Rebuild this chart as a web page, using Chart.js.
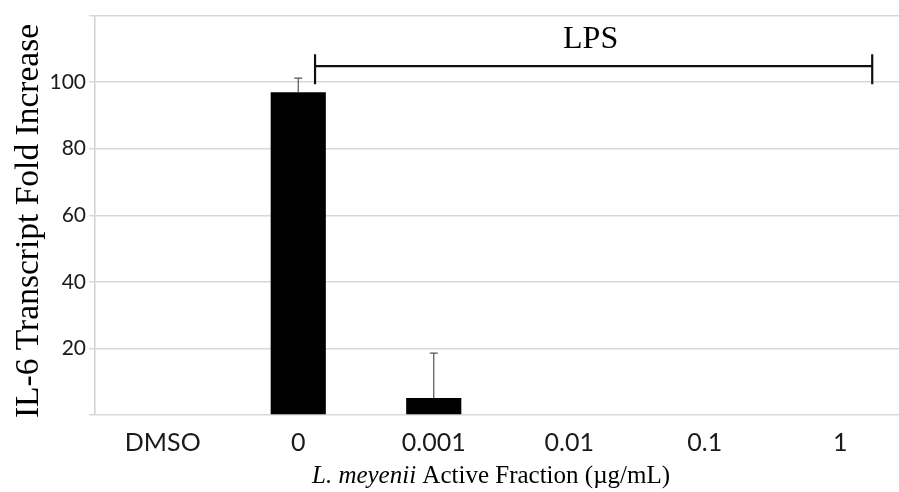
<!DOCTYPE html>
<html><head><meta charset="utf-8">
<script src="https://cdn.jsdelivr.net/npm/chart.js@4"></script>
<style>html,body{margin:0;padding:0;background:#fff;overflow:hidden}#wrap{width:908px;height:492px;position:relative}</style>
</head><body><div id="wrap"><canvas id="c"></canvas></div>
<script>
const categories = ["DMSO", "0", "0.001", "0.01", "0.1", "1"];
const foldIncrease = [0, 97, 5.1, 0, 0, 0];
const errorUpper = [null, 101.2, 18.6, null, null, null];
const yTicks = [0, 20, 40, 60, 80, 100, 120];
const bracketLabel = "LPS";
const bracketFrom = 1.124, bracketTo = 5.236, bracketValue = 104.8;
const yTitle = "IL-6 Transcript Fold Increase";
const xTitleItalic = "L. meyenii";
const xTitleRest = " Active Fraction (µg/mL)";

const overlay = {
  id: 'overlay',
  afterDatasetsDraw(chart) {
    const {ctx, scales: {x, y}} = chart;
    ctx.save();
    // error bars
    ctx.strokeStyle = '#555'; ctx.lineWidth = 1.2;
    errorUpper.forEach((e, i) => {
      if (e == null) return;
      const px = x.getPixelForValue(i);
      const top = y.getPixelForValue(e), base = y.getPixelForValue(foldIncrease[i]);
      ctx.beginPath(); ctx.moveTo(px, base); ctx.lineTo(px, top);
      ctx.moveTo(px - 4, top); ctx.lineTo(px + 4, top); ctx.stroke();
    });
    // LPS bracket
    const x1 = x.getPixelForValue(bracketFrom), x2 = x.getPixelForValue(bracketTo);
    const by = y.getPixelForValue(bracketValue);
    ctx.strokeStyle = '#111'; ctx.lineWidth = 2.2;
    ctx.beginPath(); ctx.moveTo(x1, by); ctx.lineTo(x2, by);
    ctx.moveTo(x1, by - 12); ctx.lineTo(x1, by + 18);
    ctx.moveTo(x2, by - 12); ctx.lineTo(x2, by + 18); ctx.stroke();
    ctx.fillStyle = '#000'; ctx.font = '32px "Liberation Serif"';
    ctx.textAlign = 'center'; ctx.textBaseline = 'middle';
    ctx.fillText(bracketLabel, (x1 + x2) / 2 - 3, by - 27);
    // y title
    ctx.save();
    ctx.translate(29, 221);
    ctx.rotate(-Math.PI / 2);
    ctx.font = '33.5px "Liberation Serif"';
    ctx.fillText(yTitle, 0, 0);
    ctx.restore();
    // x title (mixed italic)
    const fs = 25;
    ctx.font = `italic ${fs}px "Liberation Serif"`;
    const w1 = ctx.measureText(xTitleItalic).width;
    ctx.font = `${fs}px "Liberation Serif"`;
    const w2 = ctx.measureText(xTitleRest).width;
    const cx = 491, cy = 476;
    let sx = cx - (w1 + w2) / 2;
    ctx.textAlign = 'left';
    ctx.font = `italic ${fs}px "Liberation Serif"`;
    ctx.fillText(xTitleItalic, sx, cy);
    ctx.font = `${fs}px "Liberation Serif"`;
    ctx.fillText(xTitleRest, sx + w1, cy);
    ctx.restore();
  }
};

new Chart(document.getElementById('c'), {
  type: 'bar',
  data: {
    labels: categories,
    datasets: [{ data: foldIncrease, backgroundColor: '#000', borderWidth: 0,
      barPercentage: 0.407, categoryPercentage: 1.0 }]
  },
  options: {
    responsive: true, maintainAspectRatio: false, animation: false,
    layout: { padding: { top: 13, right: 0, left: 0, bottom: 0 } },
    plugins: { legend: { display: false }, tooltip: { enabled: false } },
    scales: {
      x: {
        grid: { display: false, drawTicks: false },
        border: { display: false },
        ticks: { color: '#1a1a1a', font: { family: 'Lato', size: 25 }, padding: 13, maxRotation: 0 },
        afterFit(s) { s.height = 77; }
      },
      y: {
        min: 0, max: 120,
        afterBuildTicks(s) { s.ticks = yTicks.map(v => ({ value: v })); },
        ticks: { color: '#1a1a1a', font: { family: 'Lato', size: 21 }, padding: 3,
          callback: v => (v === 0 || v === 120) ? '' : v },
        grid: { color: '#d8d8d8', lineWidth: 1.5, tickLength: 6 },
        border: { display: true, color: '#d0d0d0', width: 1.5 },
        afterFit(s) { s.width = 95; }
      }
    }
  },
  plugins: [overlay]
});
</script></body></html>
